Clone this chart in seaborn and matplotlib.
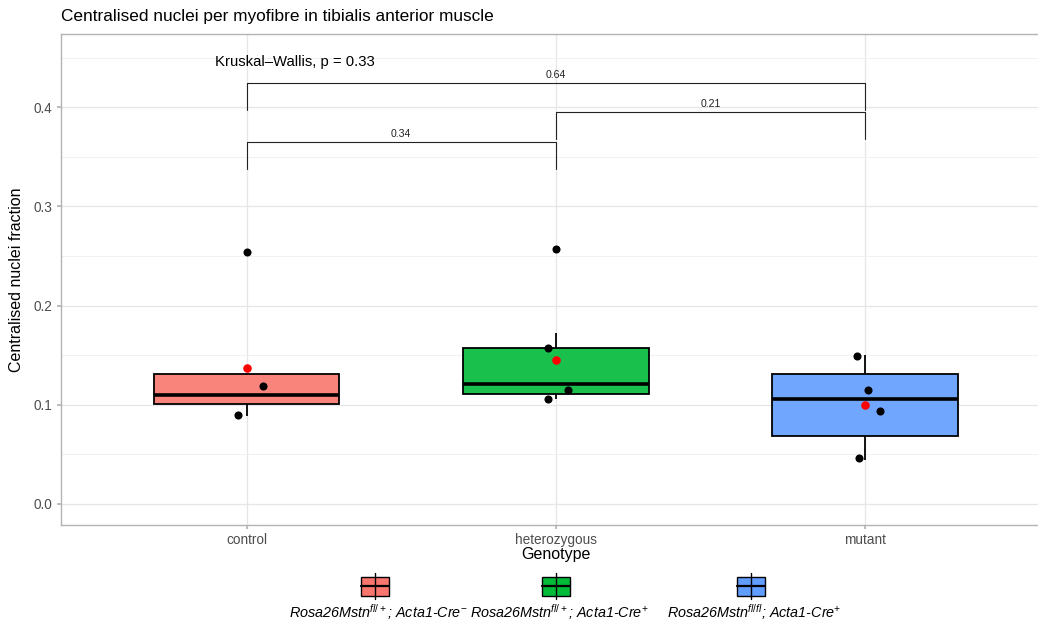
import numpy as np
import pandas as pd
import matplotlib
matplotlib.use("Agg")
import matplotlib.pyplot as plt
from matplotlib.patches import Rectangle
from matplotlib.ticker import MultipleLocator
import seaborn as sns

# ---------------- data ----------------
genotypes = ["control", "heterozygous", "mutant"]
control_values = [0.089, 0.1008, 0.1095, 0.1313, 0.2539]
heterozygous_values = [0.1055, 0.108, 0.114, 0.121, 0.142, 0.172, 0.257]
mutant_values = [0.0445, 0.0685, 0.1058, 0.1306, 0.150]

# individual points shown (jittered)
control_points = [0.1192, 0.0897]
heterozygous_points = [0.157, 0.1149, 0.1061]
mutant_points = [0.1494, 0.1145, 0.0937, 0.046]
control_jitter = [0.052, -0.029]
heterozygous_jitter = [-0.025, 0.040, -0.025]
mutant_jitter = [-0.026, 0.008, 0.048, -0.021]

comparisons = [("control", "heterozygous"), ("heterozygous", "mutant"), ("control", "mutant")]
p_values = ["0.34", "0.21", "0.64"]
kruskal_label = "Kruskal\u2013Wallis, p = 0.33"

legend_labels = [
    "Rosa26Mstn$^{fl/+}$; Acta1-Cre$^{-}$",
    "Rosa26Mstn$^{fl/+}$; Acta1-Cre$^{+}$",
    "Rosa26Mstn$^{fl/fl}$; Acta1-Cre$^{+}$",
]

# ---------------- styling ----------------
base_colors = ["#F8766D", "#00BA38", "#619CFF"]

def blend(c, a=0.9):
    r, g, b = matplotlib.colors.to_rgb(c)
    return (r * a + (1 - a), g * a + (1 - a), b * a + (1 - a))

fill_colors = [blend(c) for c in base_colors]

sns.set_theme(style="white")
plt.rcParams["font.family"] = ["Liberation Sans", "DejaVu Sans"]
plt.rcParams["mathtext.fontset"] = "custom"
plt.rcParams["mathtext.rm"] = "Liberation Sans"
plt.rcParams["mathtext.it"] = "Liberation Sans:italic"
plt.rcParams["mathtext.bf"] = "Liberation Sans:bold"

W, H = 1038, 630
fig = plt.figure(figsize=(W / 100, H / 100), dpi=100)
ax = fig.add_axes([61 / W, 1 - 525 / H, (1050.7 - 61) / W, (525 - 34) / H])

df = pd.DataFrame({
    "genotype": (["control"] * len(control_values)
                 + ["heterozygous"] * len(heterozygous_values)
                 + ["mutant"] * len(mutant_values)),
    "fraction": control_values + heterozygous_values + mutant_values,
})
df["genotype"] = pd.Categorical(df["genotype"], categories=genotypes, ordered=True)
code = {g: i for i, g in enumerate(genotypes)}

sns.boxplot(
    data=df, x="genotype", y="fraction", hue="genotype", order=genotypes,
    hue_order=genotypes, palette=fill_colors, saturation=1, width=0.6,
    legend=False, showcaps=False, linecolor="black", linewidth=1.3,
    medianprops=dict(color="black", linewidth=2.6),
    flierprops=dict(marker="o", markerfacecolor="black", markeredgecolor="black",
                    markeredgewidth=0, markersize=5.8),
    ax=ax, zorder=2,
)

pts = pd.DataFrame({
    "genotype": (["control"] * len(control_points)
                 + ["heterozygous"] * len(heterozygous_points)
                 + ["mutant"] * len(mutant_points)),
    "fraction": control_points + heterozygous_points + mutant_points,
    "jitter": control_jitter + heterozygous_jitter + mutant_jitter,
})
pts["xpos"] = pts["genotype"].map(code) + pts["jitter"]
sns.scatterplot(data=pts, x="xpos", y="fraction", color="black", s=34,
                edgecolor="black", linewidth=0, ax=ax, zorder=4, legend=False)

# group means (red)
means = df.groupby("genotype", observed=True)["fraction"].mean().reset_index()
means["xpos"] = means["genotype"].map(code).astype(float)
sns.scatterplot(data=means, x="xpos", y="fraction", color="red", s=38,
                linewidth=0, ax=ax, zorder=5, legend=False)

# brackets
bracket_tops = [0.3647, 0.3949, 0.4242]
bracket_leg = 0.0265
label_gap = 0.0085
for (g1, g2), p, ytop in zip(comparisons, p_values, bracket_tops):
    x1, x2 = genotypes.index(g1), genotypes.index(g2)
    ax.plot([x1, x1, x2, x2], [ytop - bracket_leg, ytop, ytop, ytop - bracket_leg],
            color="#222222", lw=0.8, zorder=3)
    ax.text((x1 + x2) / 2, ytop + label_gap, p, ha="center", va="center",
            fontsize=7.6, color="#222222")

ax.text(-0.103, 0.4456, kruskal_label, ha="left", va="center", fontsize=10.7,
        color="black")

# axes styling
ax.set_xlim(-0.6, 2.6)
ax.set_ylim(-0.0212, 0.4739)
ax.set_xticks(range(len(genotypes)))
ax.set_xticklabels(genotypes)
ax.yaxis.set_major_locator(MultipleLocator(0.1))
ax.yaxis.set_minor_locator(MultipleLocator(0.05))
ax.yaxis.set_major_formatter(matplotlib.ticker.FormatStrFormatter("%.1f"))
ax.grid(True, which="major", axis="both", color="#E6E6E6", lw=0.9, zorder=0)
ax.grid(True, which="minor", axis="y", color="#EFEFEF", lw=0.6, zorder=0)
ax.set_axisbelow(True)
for s in ax.spines.values():
    s.set_color("#B3B3B3")
    s.set_linewidth(1.0)
ax.tick_params(axis="both", which="major", length=3, color="#B3B3B3",
               labelsize=9.8, labelcolor="#4D4D4D", pad=3, left=True, bottom=True)
ax.tick_params(axis="y", which="minor", length=0)
ax.set_xlabel("Genotype", fontsize=11.5, color="black", labelpad=0)
ax.set_ylabel("Centralised nuclei fraction", fontsize=11.5, color="black", labelpad=7)

fig.text(61 / W, 1 - 17 / H, "Centralised nuclei per myofibre in tibialis anterior muscle",
         ha="left", va="center", fontsize=12.4, color="black")

# legend (keys above labels)
lax = fig.add_axes([0, 0, 1, 70 / H])
lax.set_xlim(0, W)
lax.set_ylim(630, 560)
lax.axis("off")
key_centers = [375, 556, 751]
key_w, key_h = 28, 19
for cx, col, lab in zip(key_centers, base_colors, legend_labels):
    lax.add_patch(Rectangle((cx - key_w / 2, 586 - key_h / 2), key_w, key_h,
                            facecolor=col, edgecolor="black", lw=1.0, alpha=1))
    lax.plot([cx, cx], [573, 599], color="black", lw=1.0)
    lax.plot([cx - key_w / 2, cx + key_w / 2], [586, 586], color="black", lw=1.6)
    lax.text(cx + 3, 612, lab, ha="center", va="center", fontsize=10.4,
             style="italic", color="black")

fig.savefig("out.png", dpi=100)
